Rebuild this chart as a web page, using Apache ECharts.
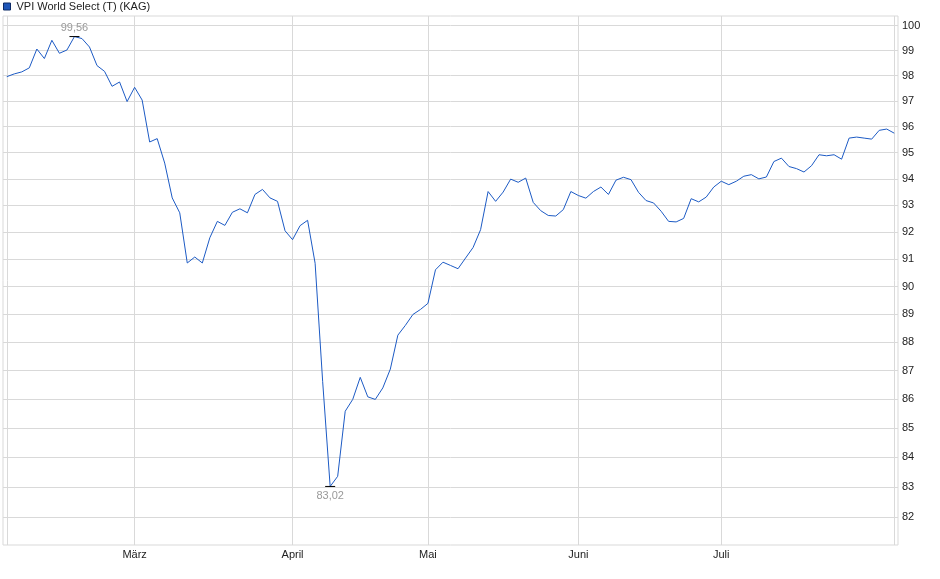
<!DOCTYPE html>
<html lang="de">
<head>
    <meta charset="UTF-8">
    <title>VPI World Select (T) (KAG)</title>
    <script src="https://cdn.jsdelivr.net/npm/echarts@6/dist/echarts.min.js"></script>
    <style>
        html, body { margin: 0; padding: 0; background: #fff; }
        #chart { width: 940px; height: 579px; }
    </style>
</head>
<body>
<div id="chart"></div>
<script>
    // Kursverlauf (Handelstage)
    var seriesName = 'VPI World Select (T) (KAG)';
    var prices = [
        97.96, 98.07, 98.15, 98.31, 99.06, 98.68, 99.41, 98.89, 99.02, 99.56,
        99.48, 99.14, 98.40, 98.17, 97.58, 97.75, 96.98, 97.54, 97.04, 95.41,
        95.54, 94.60, 93.28, 92.72, 90.86, 91.08, 90.86, 91.79, 92.40, 92.25,
        92.74, 92.87, 92.72, 93.41, 93.60, 93.28, 93.15, 92.05, 91.72, 92.24,
        92.44, 90.85, 86.62, 83.02, 83.36, 85.58, 85.99, 86.76, 86.08, 85.99,
        86.39, 87.05, 88.25, 88.60, 88.99, 89.17, 89.39, 90.61, 90.89, 90.77,
        90.65, 91.04, 91.43, 92.09, 93.52, 93.15, 93.50, 93.99, 93.87, 94.03,
        93.11, 92.80, 92.62, 92.60, 92.84, 93.52, 93.37, 93.27, 93.52, 93.69,
        93.41, 93.95, 94.06, 93.97, 93.49, 93.18, 93.09, 92.78, 92.40, 92.38,
        92.51, 93.25, 93.13, 93.31, 93.69, 93.91, 93.78, 93.91, 94.10, 94.16,
        94.00, 94.07, 94.66, 94.79, 94.47, 94.39, 94.26, 94.50, 94.92, 94.88,
        94.92, 94.75, 95.56, 95.60, 95.56, 95.52, 95.86, 95.91, 95.75
    ];
    // erster Handelstag je Monat (Index in prices)
    var monthStarts = [17, 38, 56, 76, 95];
    var monthNames = ['März', 'April', 'Mai', 'Juni', 'Juli'];
    // senkrechte Gitterlinien: Anfang, Monate, Ende
    var gridIdx = [0, 17, 38, 56, 76, 95, 118];
    var yTicks = [82, 83, 84, 85, 86, 87, 88, 89, 90, 91, 92, 93, 94, 95, 96, 97, 98, 99, 100];

    var days = [];
    for (var i = 0; i < prices.length; i++) {
        days.push(i);
    }

    var gridColor = '#d9d9d9';
    var lineColor = '#1c5ac4';

    var option = {
        animation: false,
        textStyle: { fontFamily: 'Arial, "Liberation Sans", sans-serif' },
        legend: {
            left: 3,
            top: 1,
            padding: 0,
            itemWidth: 7,
            itemHeight: 7,
            selectedMode: false,
            textStyle: { fontSize: 11, color: '#222', padding: [0, 0, 0, 1] },
            data: [{
                name: seriesName,
                icon: 'rect',
                itemStyle: { color: '#1f56b8', borderColor: '#0d2a66', borderWidth: 1 }
            }]
        },
        grid: {
            left: 3,
            right: 42,
            top: 16,
            bottom: 34,
            show: true,
            borderColor: gridColor,
            borderWidth: 1,
            outerBoundsMode: 'none'
        },
        xAxis: {
            type: 'category',
            data: days,
            boundaryGap: true,
            axisLine: { show: false },
            axisTick: { show: false },
            axisLabel: {
                color: '#222',
                fontSize: 11,
                margin: 4,
                interval: function (idx) { return monthStarts.indexOf(idx) >= 0; },
                formatter: function (val, idx) {
                    var k = monthStarts.indexOf(idx);
                    return k >= 0 ? monthNames[k] : '';
                }
            },
            splitLine: {
                show: true,
                alignWithLabel: true,
                interval: function (idx) { return gridIdx.indexOf(idx) >= 0; },
                lineStyle: { color: gridColor, width: 1 }
            }
        },
        yAxis: {
            type: 'log',
            logBase: 10,
            position: 'right',
            min: 81.08,
            max: 100.39,
            axisLine: { show: false },
            axisTick: { show: false, customValues: yTicks },
            axisLabel: {
                customValues: yTicks,
                color: '#222',
                fontSize: 11,
                margin: 4,
                formatter: function (v) { return Math.round(v); }
            },
            splitLine: { show: true, lineStyle: { color: gridColor, width: 1 } }
        },
        series: [{
            name: seriesName,
            type: 'line',
            data: prices,
            showSymbol: false,
            lineStyle: { color: lineColor, width: 1 },
            itemStyle: { color: lineColor },
            markPoint: {
                symbol: 'rect',
                symbolSize: [10, 1],
                itemStyle: { color: '#000' },
                label: {
                    show: true,
                    color: '#999',
                    fontSize: 11,
                    formatter: function (p) { return p.value.toFixed(2).replace('.', ','); }
                },
                data: [
                    { type: 'max', label: { position: 'top', distance: 3 } },
                    { type: 'min', label: { position: 'bottom', distance: 4 } }
                ]
            }
        }]
    };

    var chart = echarts.init(document.getElementById('chart'));
    chart.setOption(option);
</script>
</body>
</html>
